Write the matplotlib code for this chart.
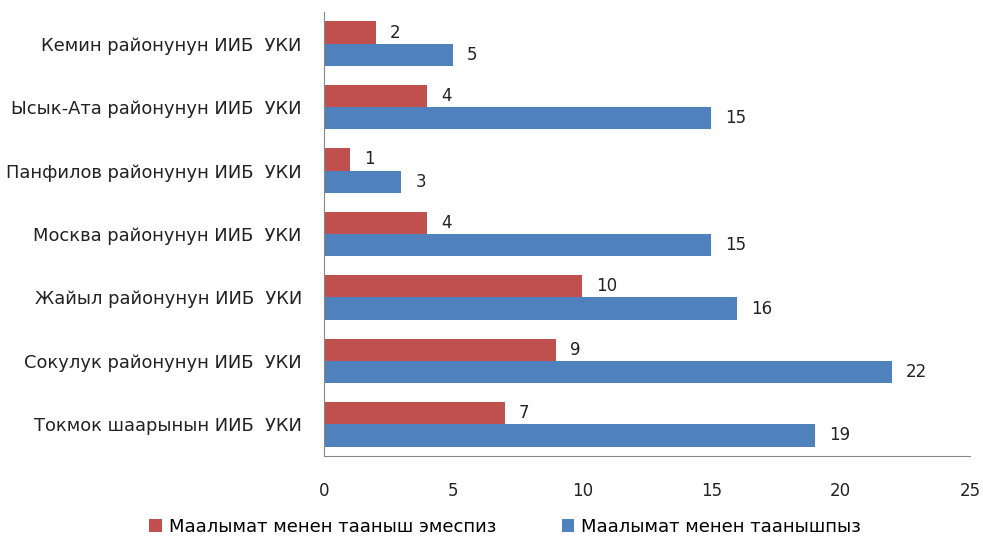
import numpy as np
import matplotlib.pyplot as plt

categories = ["Кемин районунун ИИБ  УКИ", "Ысык-Ата районунун ИИБ  УКИ",
              "Панфилов районунун ИИБ  УКИ", "Москва районунун ИИБ  УКИ",
              "Жайыл районунун ИИБ  УКИ", "Сокулук районунун ИИБ  УКИ",
              "Токмок шаарынын ИИБ  УКИ"]
not_familiar = [2, 4, 1, 4, 10, 9, 7]
familiar = [5, 15, 3, 15, 16, 22, 19]
series_names = ["Маалымат менен тааныш эмеспиз", "Маалымат менен таанышпыз"]

red = "#C0504D"
blue = "#4F81BD"

fig = plt.figure(figsize=(9.83, 5.41), dpi=100)
ax = fig.add_axes([0.3296, 0.157, 0.657, 0.821])

n = len(categories)
y = np.arange(n)[::-1]
h = 0.35
b1 = ax.barh(y + h / 2, not_familiar, height=h, color=red, label=series_names[0])
b2 = ax.barh(y - h / 2, familiar, height=h, color=blue, label=series_names[1])

for bars in (b1, b2):
    for bar in bars:
        w = bar.get_width()
        ax.annotate(str(int(w)), (w, bar.get_y() + bar.get_height() / 2),
                    xytext=(10, 0), textcoords="offset points",
                    va="center", ha="left", fontsize=12, color="#222222")

ax.set_xlim(0, 25)
ax.set_ylim(-0.5, n - 0.5)
ax.set_xticks([0, 5, 10, 15, 20, 25])
ax.set_yticks(y)
ax.set_yticklabels(categories, fontsize=12.85, color="#222222")
ax.tick_params(axis="x", length=0, pad=19, labelsize=12, labelcolor="#222222")
ax.tick_params(axis="y", length=0, pad=16)
for s in ("top", "right"):
    ax.spines[s].set_visible(False)
for s in ("left", "bottom"):
    ax.spines[s].set_color("#868686")

fig.legend(handles=[b1, b2], loc="center", bbox_to_anchor=(0.514, 0.026), ncol=2,
           frameon=False, fontsize=13, handlelength=0.7, handleheight=0.7,
           columnspacing=3.6, handletextpad=0.4)

fig.savefig("out.png", dpi=100)
